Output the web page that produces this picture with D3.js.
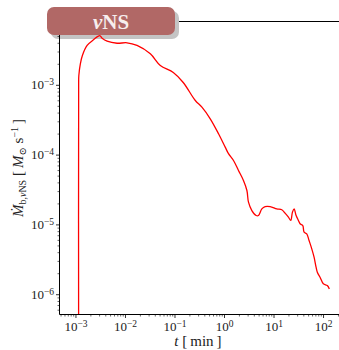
<!DOCTYPE html>
<html>
<head>
<meta charset="utf-8">
<script src="https://cdn.jsdelivr.net/npm/d3@7"></script>
<style>
  html, body { margin: 0; padding: 0; background: #fff; }
  svg { display: block; font-family: "Liberation Serif", "DejaVu Serif", serif; }
</style>
</head>
<body>
<svg id="chart" width="339" height="350"></svg>
<script>
// Neutrino-driven NS wind mass-loss rate vs time (minutes)
const timeMin = [
  1.16e-3, 1.16e-3, 1.17e-3, 1.26e-3, 1.38e-3, 1.72e-3, 2.34e-3, 3.09e-3, 3.45e-3, 4.36e-3,
  6.93e-3, 1.10e-2, 1.75e-2, 3.25e-2, 5.17e-2, 9.46e-2, 0.150, 0.263, 0.358, 0.527,
  0.775, 1.057, 1.232, 1.554, 1.96, 2.47, 2.90, 3.12, 3.65, 4.46,
  4.96, 5.81, 6.77, 8.54, 11.65, 14.7, 17.1, 20.0, 22.3, 24.1,
  26.0, 28.6, 31.8, 34.4, 39.0, 41.4, 46.9, 52.2, 59.2, 65.9,
  72.3, 76.7, 87.0, 101.4, 122, 134
];
const massRate = [
  1e-7, 1.00e-3, 1.36e-3, 2.02e-3, 2.63e-3, 3.66e-3, 4.45e-3, 5.05e-3, 4.65e-3, 4.21e-3,
  3.94e-3, 4.00e-3, 3.66e-3, 2.78e-3, 1.89e-3, 1.50e-3, 1.08e-3, 5.96e-4, 4.78e-4, 3.26e-4,
  1.99e-4, 1.28e-4, 1.03e-4, 8.23e-5, 5.92e-5, 4.26e-5, 3.06e-5, 2.08e-5, 1.58e-5, 1.34e-5,
  1.34e-5, 1.67e-5, 1.80e-5, 1.80e-5, 1.67e-5, 1.62e-5, 1.45e-5, 1.27e-5, 1.14e-5, 1.50e-5,
  1.67e-5, 1.34e-5, 1.14e-5, 1.02e-5, 9.64e-6, 7.73e-6, 7.33e-6, 5.88e-6, 4.47e-6, 3.39e-6,
  2.44e-6, 2.07e-6, 1.75e-6, 1.41e-6, 1.33e-6, 1.19e-6
];
const xMajorExp = [-3, -2, -1, 0, 1, 2];
const yMajorExp = [-6, -5, -4, -3];
const badgeText = "NS";

const svg = d3.select("#chart");
const plot = { left: 59.5, top: 21.5, bottom: 314.5, right: 340 };

const x = d3.scaleLog().domain([4.76e-4, 2.2e2]).range([plot.left, plot.right]);
const y = d3.scaleLog().domain([5.12e-7, 8.07e-3]).range([plot.bottom, plot.top]);

// minor ticks 2..9 for each decade within the domain
function minorTicks(scale) {
  const [a, b] = scale.domain();
  const out = [];
  for (let e = Math.floor(Math.log10(a)); e <= Math.ceil(Math.log10(b)); e++) {
    for (let m = 2; m <= 9; m++) {
      const v = m * Math.pow(10, e);
      if (v >= a && v <= b) out.push(v);
    }
  }
  return out;
}

svg.append("defs").append("clipPath").attr("id", "clip")
  .append("rect").attr("x", plot.left).attr("y", plot.top)
  .attr("width", plot.right - plot.left).attr("height", plot.bottom - plot.top);

// spines (left, bottom, top)
svg.append("line").attr("x1", plot.left).attr("x2", 339).attr("y1", plot.top).attr("y2", plot.top)
  .attr("stroke", "#000").attr("stroke-width", 1);

// title badge shadow
svg.append("rect").attr("x", 51).attr("y", 11).attr("width", 128).attr("height", 28).attr("rx", 7)
  .attr("fill", "#c4c4c4");

// data line
const pts = timeMin.map((t, i) => [t, massRate[i]]);
svg.append("path")
  .datum(pts)
  .attr("clip-path", "url(#clip)")
  .attr("fill", "none")
  .attr("stroke", "#ff0000")
  .attr("stroke-width", 1.3)
  .attr("stroke-linejoin", "round")
  .attr("d", d3.line().x(d => x(d[0])).y(d => y(d[1])).curve(d3.curveCatmullRom.alpha(0.5)));

// axes: minor ticks
const xMinor = svg.append("g").attr("transform", `translate(0,${plot.bottom})`)
  .call(d3.axisBottom(x).tickValues(minorTicks(x)).tickSize(2).tickFormat(() => ""));
const yMinor = svg.append("g").attr("transform", `translate(${plot.left},0)`)
  .call(d3.axisLeft(y).tickValues(minorTicks(y)).tickSize(2).tickFormat(() => ""));
[xMinor, yMinor].forEach(g => { g.select(".domain").remove(); g.selectAll("line").attr("stroke-width", 0.6); });

// axes: major ticks with 10^n labels
function powLabel(sel) {
  sel.each(function(d) {
    const e = Math.round(Math.log10(d));
    const t = d3.select(this).text("");
    t.append("tspan").text("10");
    t.append("tspan").attr("dy", "-0.45em").attr("font-size", "9.5px")
      .text(e < 0 ? "\u2212" + Math.abs(e) : String(e));
  });
}
const xAxis = svg.append("g").attr("transform", `translate(0,${plot.bottom})`)
  .call(d3.axisBottom(x).tickValues(xMajorExp.map(e => Math.pow(10, e))).tickSize(3.5).tickPadding(4));
xAxis.selectAll("text").attr("font-size", "13px").attr("fill", "#222").attr("font-family", "Liberation Serif, serif").call(powLabel);
const yAxis = svg.append("g").attr("transform", `translate(${plot.left},0)`)
  .call(d3.axisLeft(y).tickValues(yMajorExp.map(e => Math.pow(10, e))).tickSize(3.5).tickPadding(2));
yAxis.selectAll("text").attr("font-size", "13px").attr("fill", "#222").attr("font-family", "Liberation Serif, serif").call(powLabel);
[xAxis, yAxis].forEach(g => { g.select(".domain").remove(); g.selectAll("line").attr("stroke-width", 0.8); });

svg.append("line").attr("x1", plot.left).attr("x2", plot.left).attr("y1", plot.top).attr("y2", plot.bottom)
  .attr("stroke", "#000").attr("stroke-width", 1);
svg.append("line").attr("x1", plot.left).attr("x2", 339).attr("y1", plot.bottom).attr("y2", plot.bottom)
  .attr("stroke", "#000").attr("stroke-width", 1);

// x label
const xl = svg.append("text").attr("x", 198).attr("y", 346).attr("text-anchor", "middle")
  .attr("font-size", "15px").attr("fill", "#222");
xl.append("tspan").attr("font-style", "italic").text("t");
xl.append("tspan").text(" [\u2009min\u2009]");

// y label
const yl = svg.append("text").attr("transform", "translate(23,168) rotate(-90)")
  .attr("text-anchor", "middle").attr("font-size", "15px").attr("fill", "#222");
yl.append("tspan").attr("font-style", "italic").text("\u1E40");
yl.append("tspan").attr("font-size", "10px").attr("dy", "3").text("b,");
yl.append("tspan").attr("font-size", "10px").attr("font-style", "italic").text("\u03BD");
yl.append("tspan").attr("font-size", "10px").text("NS");
yl.append("tspan").attr("dy", "-3").text(" [\u2009");
yl.append("tspan").attr("font-style", "italic").text("M");
yl.append("tspan").attr("font-size", "10px").attr("dy", "3").text("\u2299");
yl.append("tspan").attr("dy", "-3").text(" s");
yl.append("tspan").attr("font-size", "10px").attr("dy", "-5").text("\u22121");
yl.append("tspan").attr("dy", "5").text("\u2009]");

// title badge
const badge = svg.append("g");
badge.append("rect").attr("x", 47).attr("y", 7).attr("width", 128).attr("height", 28).attr("rx", 7)
  .attr("fill", "#b16866");
const bt = badge.append("text").attr("x", 111).attr("y", 28.5).attr("text-anchor", "middle")
  .attr("font-size", "21px").attr("font-weight", "bold").attr("fill", "#f7eeee");
bt.append("tspan").attr("font-style", "italic").text("\u03BD");
bt.append("tspan").text(badgeText);
</script>
</body>
</html>
